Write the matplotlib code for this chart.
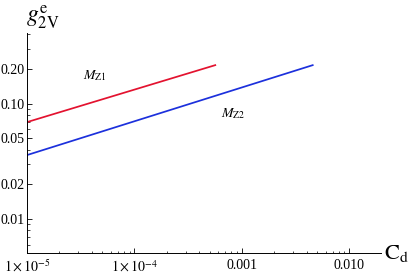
import matplotlib
matplotlib.use("Agg")
import matplotlib.pyplot as plt
from matplotlib.ticker import FixedLocator, NullFormatter

plt.rcParams['font.family'] = ['Liberation Serif', 'DejaVu Serif']
plt.rcParams['mathtext.fontset'] = 'stix'

# Data
mz1_x = [1e-5, 5.75e-4]
mz1_y = [0.0693, 0.217]
mz2_x = [1e-5, 4.64e-3]
mz2_y = [0.0359, 0.217]

x_ticks = [1e-5, 1e-4, 1e-3, 1e-2]
x_labels = [r'$1\times10^{-5}$', r'$1\times10^{-4}$', '0.001', '0.010']
y_ticks = [0.01, 0.02, 0.05, 0.10, 0.20]
y_labels = ['0.01', '0.02', '0.05', '0.10', '0.20']

fig = plt.figure(figsize=(4.15, 2.75), dpi=100)
ax = fig.add_axes([27/415, 1-253.3/275, (381-27)/415, (253.3-33)/275])

ax.plot(mz1_x, mz1_y, color='#e3122f', lw=1.25, solid_capstyle='butt')
ax.plot(mz2_x, mz2_y, color='#1c30dc', lw=1.25, solid_capstyle='butt')

ax.set_xscale('log')
ax.set_yscale('log')
ax.set_xlim(1e-5, 0.0197)
ax.set_ylim(0.00506, 0.41)

ax.xaxis.set_major_locator(FixedLocator(x_ticks))
ax.set_xticklabels(x_labels)
ax.yaxis.set_major_locator(FixedLocator(y_ticks))
ax.set_yticklabels(y_labels)

xminor = [m * 10.0**e for e in range(-5, -1) for m in range(2, 10)]
yminor = [m * 10.0**e for e in range(-3, 0) for m in range(1, 10)
          if round(m * 10.0**e, 6) not in [round(v, 6) for v in y_ticks]]
ax.xaxis.set_minor_locator(FixedLocator(xminor))
ax.yaxis.set_minor_locator(FixedLocator(yminor))
ax.xaxis.set_minor_formatter(NullFormatter())
ax.yaxis.set_minor_formatter(NullFormatter())

ax.tick_params(which='major', direction='in', length=3.5, width=0.6,
               labelsize=10)
ax.tick_params(axis='y', which='major', pad=1.5)
ax.tick_params(axis='x', which='major', pad=4)
ax.tick_params(which='minor', direction='in', length=1.8, width=0.5)

for s in ['top', 'right']:
    ax.spines[s].set_visible(False)
for s in ['left', 'bottom']:
    ax.spines[s].set_linewidth(0.7)

ax.text(4.3e-5, 0.174, r'$M_{\mathrm{Z1}}$', fontsize=10, ha='center', va='center')
ax.text(8.3e-4, 0.0824, r'$M_{\mathrm{Z2}}$', fontsize=10, ha='center', va='center')

fig.text(396/415, 1-253/275, r'$\mathrm{C}_{\mathrm{d}}$', fontsize=16,
         ha='center', va='center')
fig.text(43/415, 1-17/275, r'$g_{\mathrm{2V}}^{\mathrm{e}}$', fontsize=17,
         ha='center', va='center')

fig.savefig('out.png', dpi=100)
